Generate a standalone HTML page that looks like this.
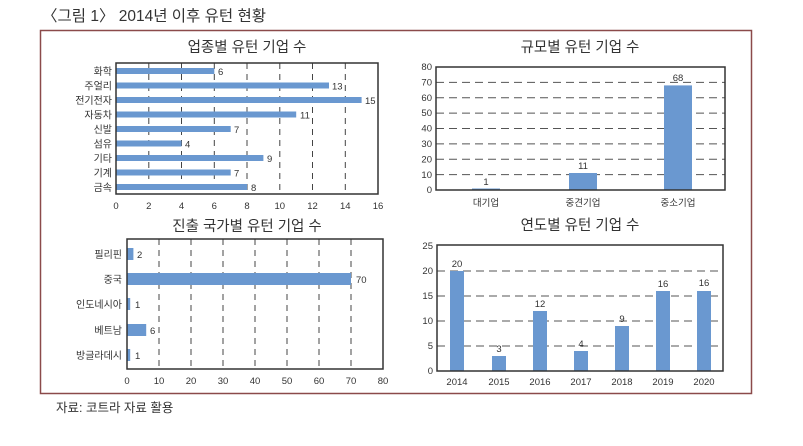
<!DOCTYPE html>
<html><head><meta charset="utf-8"><style>
html,body{margin:0;padding:0;background:#fff;width:803px;height:446px;overflow:hidden}
svg{display:block}
text{font-family:"Liberation Sans","Noto Sans CJK KR",sans-serif;fill:#333}
</style></head><body>
<svg width="803" height="446" viewBox="0 0 803 446" xmlns="http://www.w3.org/2000/svg">
<text x="42" y="21" font-size="15.5" fill="#222">〈그림 1〉 2014년 이후 유턴 현황</text>
<rect x="40.5" y="30.5" width="711" height="363" fill="none" stroke="#8b4a4a" stroke-width="1.5"/>
<text x="56" y="412" font-size="12.5">자료: 코트라 자료 활용</text>

<!-- Chart 1 -->
<text x="247" y="52" font-size="14.5" text-anchor="middle">업종별 유턴 기업 수</text>
<g stroke="#444" stroke-dasharray="6,5" stroke-width="1">
<line x1="148.8" y1="63" x2="148.8" y2="194"/><line x1="181.5" y1="63" x2="181.5" y2="194"/><line x1="214.3" y1="63" x2="214.3" y2="194"/><line x1="247" y1="63" x2="247" y2="194"/><line x1="279.8" y1="63" x2="279.8" y2="194"/><line x1="312.5" y1="63" x2="312.5" y2="194"/><line x1="345.3" y1="63" x2="345.3" y2="194"/>
</g>
<g fill="#6a98d0">
<rect x="116" y="68" width="98.3" height="6"/>
<rect x="116" y="82.5" width="213" height="6"/>
<rect x="116" y="97" width="245.6" height="6"/>
<rect x="116" y="111.5" width="180.2" height="6"/>
<rect x="116" y="126" width="114.7" height="6"/>
<rect x="116" y="140.5" width="65.5" height="6"/>
<rect x="116" y="155" width="147.4" height="6"/>
<rect x="116" y="169.5" width="114.7" height="6"/>
<rect x="116" y="184" width="131" height="6"/>
</g>
<rect x="116" y="63" width="262" height="131" fill="none" stroke="#333" stroke-width="1.5"/>
<g font-size="10" text-anchor="end">
<text x="112" y="75">화학</text><text x="112" y="89.5">주얼리</text><text x="112" y="104">전기전자</text><text x="112" y="118.5">자동차</text><text x="112" y="133">신발</text><text x="112" y="147.5">섬유</text><text x="112" y="162">기타</text><text x="112" y="176.5">기계</text><text x="112" y="191">금속</text>
</g>
<g font-size="9.5">
<text x="218" y="75">6</text><text x="332" y="89.5">13</text><text x="365" y="104">15</text><text x="300" y="118.5">11</text><text x="234" y="133">7</text><text x="185" y="147.5">4</text><text x="267" y="162">9</text><text x="234" y="176.5">7</text><text x="251" y="191">8</text>
</g>
<g font-size="9.5" text-anchor="middle">
<text x="116" y="209">0</text><text x="148.8" y="209">2</text><text x="181.5" y="209">4</text><text x="214.3" y="209">6</text><text x="247" y="209">8</text><text x="279.8" y="209">10</text><text x="312.5" y="209">12</text><text x="345.3" y="209">14</text><text x="378" y="209">16</text>
</g>

<!-- Chart 2 -->
<text x="580" y="52" font-size="14.5" text-anchor="middle">규모별 유턴 기업 수</text>
<g stroke="#555" stroke-dasharray="8,5" stroke-width="1">
<line x1="436" y1="82.4" x2="725" y2="82.4"/><line x1="436" y1="97.8" x2="725" y2="97.8"/><line x1="436" y1="113.1" x2="725" y2="113.1"/><line x1="436" y1="128.5" x2="725" y2="128.5"/><line x1="436" y1="143.9" x2="725" y2="143.9"/><line x1="436" y1="159.3" x2="725" y2="159.3"/><line x1="436" y1="174.6" x2="725" y2="174.6"/>
</g>
<g fill="#6a98d0">
<rect x="472" y="188.5" width="28" height="1.5"/>
<rect x="569" y="173" width="28" height="17"/>
<rect x="664" y="85.4" width="28" height="104.6"/>
</g>
<rect x="436" y="67" width="289" height="123" fill="none" stroke="#333" stroke-width="1.5"/>
<g font-size="9.5" text-anchor="end">
<text x="432" y="70">80</text><text x="432" y="85.5">70</text><text x="432" y="101">60</text><text x="432" y="116">50</text><text x="432" y="131.5">40</text><text x="432" y="147">30</text><text x="432" y="162.5">20</text><text x="432" y="178">10</text><text x="432" y="193">0</text>
</g>
<g font-size="9.5" text-anchor="middle">
<text x="486" y="185">1</text><text x="583" y="169">11</text><text x="678" y="81">68</text>
<text x="486" y="206">대기업</text><text x="583" y="206">중견기업</text><text x="678" y="206">중소기업</text>
</g>

<!-- Chart 3 -->
<text x="247" y="231" font-size="14.5" text-anchor="middle">진출 국가별 유턴 기업 수</text>
<g stroke="#444" stroke-dasharray="6,5" stroke-width="1">
<line x1="159" y1="239" x2="159" y2="369"/><line x1="191" y1="239" x2="191" y2="369"/><line x1="223" y1="239" x2="223" y2="369"/><line x1="255" y1="239" x2="255" y2="369"/><line x1="287" y1="239" x2="287" y2="369"/><line x1="319" y1="239" x2="319" y2="369"/><line x1="351" y1="239" x2="351" y2="369"/>
</g>
<g fill="#6a98d0">
<rect x="127" y="248" width="6.4" height="12"/>
<rect x="127" y="273" width="224" height="12"/>
<rect x="127" y="298" width="3.2" height="12"/>
<rect x="127" y="324" width="19.2" height="12"/>
<rect x="127" y="349" width="3.2" height="12"/>
</g>
<rect x="127" y="239" width="256" height="130" fill="none" stroke="#333" stroke-width="1.5"/>
<g font-size="10" text-anchor="end">
<text x="122" y="258">필리핀</text><text x="122" y="283">중국</text><text x="122" y="308">인도네시아</text><text x="122" y="334">베트남</text><text x="122" y="359">방글라데시</text>
</g>
<g font-size="9.5">
<text x="137" y="258">2</text><text x="356" y="283">70</text><text x="135" y="308">1</text><text x="150" y="334">6</text><text x="135" y="359">1</text>
</g>
<g font-size="9.5" text-anchor="middle">
<text x="127" y="384">0</text><text x="159" y="384">10</text><text x="191" y="384">20</text><text x="223" y="384">30</text><text x="255" y="384">40</text><text x="287" y="384">50</text><text x="319" y="384">60</text><text x="351" y="384">70</text><text x="383" y="384">80</text>
</g>

<!-- Chart 4 -->
<text x="580" y="230" font-size="14.5" text-anchor="middle">연도별 유턴 기업 수</text>
<g stroke="#555" stroke-dasharray="8,5" stroke-width="1">
<line x1="437" y1="271" x2="723" y2="271"/><line x1="437" y1="296" x2="723" y2="296"/><line x1="437" y1="321" x2="723" y2="321"/><line x1="437" y1="346" x2="723" y2="346"/>
</g>
<g fill="#6a98d0">
<rect x="450" y="271" width="14" height="100"/>
<rect x="492" y="356" width="14" height="15"/>
<rect x="533" y="311" width="14" height="60"/>
<rect x="574" y="351" width="14" height="20"/>
<rect x="615" y="326" width="14" height="45"/>
<rect x="656" y="291" width="14" height="80"/>
<rect x="697" y="291" width="14" height="80"/>
</g>
<rect x="437" y="245" width="286" height="126" fill="none" stroke="#333" stroke-width="1.5"/>
<g font-size="9.5" text-anchor="end">
<text x="433" y="249">25</text><text x="433" y="274">20</text><text x="433" y="299">15</text><text x="433" y="324">10</text><text x="433" y="349">5</text><text x="433" y="374">0</text>
</g>
<g font-size="9.5" text-anchor="middle">
<text x="457" y="267">20</text><text x="499" y="352">3</text><text x="540" y="307">12</text><text x="581" y="347">4</text><text x="622" y="322">9</text><text x="663" y="287">16</text><text x="704" y="286">16</text>
<text x="457" y="385">2014</text><text x="499" y="385">2015</text><text x="540" y="385">2016</text><text x="581" y="385">2017</text><text x="622" y="385">2018</text><text x="663" y="385">2019</text><text x="704" y="385">2020</text>
</g>
</svg>
</body></html>
